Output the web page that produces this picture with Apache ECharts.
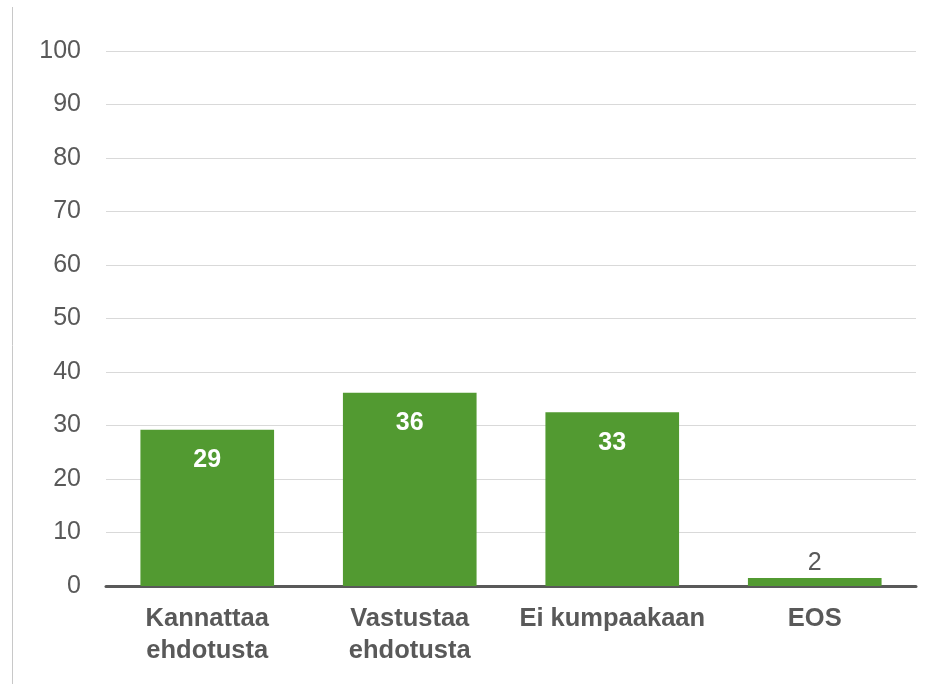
<!DOCTYPE html>
<html>
<head>
<meta charset="utf-8">
<script src="https://cdn.jsdelivr.net/npm/echarts@6/dist/echarts.min.js"></script>
<style>
html, body { margin: 0; padding: 0; background: #fff; }
#chart { width: 925px; height: 684px; }
</style>
</head>
<body>
<div id="chart"></div>
<script>
var categories = ['Kannattaa\nehdotusta', 'Vastustaa\nehdotusta', 'Ei kumpaakaan', 'EOS'];
var values = [29.2, 36.1, 32.5, 1.5];
var yTicks = { min: 0, max: 100, interval: 10 };

var myChart = echarts.init(document.getElementById('chart'));

var barData = values.map(function (v, i) {
    // the small bar gets its label above, in grey
    if (v < 5) {
        return {
            value: v,
            label: { position: 'top', distance: 2, color: '#595959', fontWeight: 'normal' }
        };
    }
    return v;
});

var option = {
    animation: false,
    textStyle: { fontFamily: 'Liberation Sans, Arial, sans-serif' },
    grid: { left: 106, right: 9, top: 51, bottom: 98 },
    graphic: [{
        type: 'line',
        shape: { x1: 12.5, y1: 7, x2: 12.5, y2: 684 },
        style: { stroke: '#c8c8c8', lineWidth: 1 }
    }],
    xAxis: {
        type: 'category',
        data: categories,
        axisTick: { show: false },
        axisLine: { lineStyle: { color: '#595959', width: 3 } },
        axisLabel: {
            color: '#595959',
            fontSize: 25.5,
            fontWeight: 'bold',
            lineHeight: 32,
            margin: 17,
            interval: 0
        }
    },
    yAxis: {
        type: 'value',
        min: yTicks.min,
        max: yTicks.max,
        interval: yTicks.interval,
        axisLine: { show: false },
        axisTick: { show: false },
        axisLabel: { color: '#595959', fontSize: 25, margin: 25, padding: [4, 0, 0, 0] },
        splitLine: { lineStyle: { color: '#d9d9d9', width: 1 } }
    },
    series: [{
        type: 'bar',
        data: barData,
        barWidth: '66%',
        itemStyle: { color: '#529a31' },
        label: {
            show: true,
            position: 'insideTop',
            distance: 18,
            color: '#fff',
            fontSize: 25,
            fontWeight: 'bold',
            formatter: function (p) { return Math.round(p.value); }
        }
    }]
};

myChart.setOption(option);
</script>
</body>
</html>
